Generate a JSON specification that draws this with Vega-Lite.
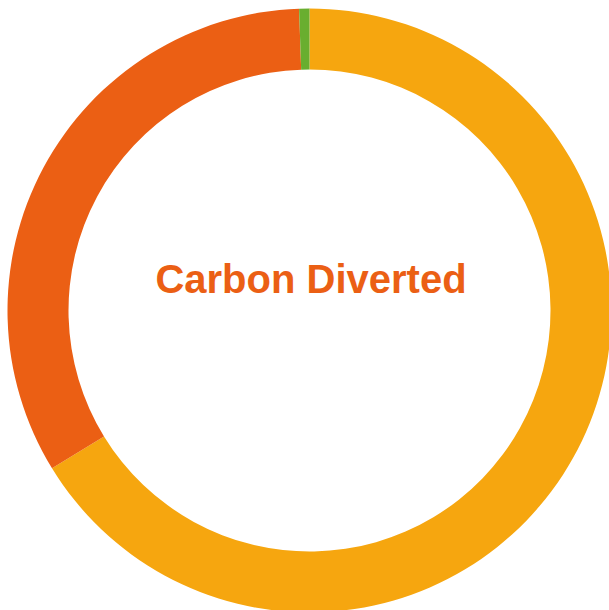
{
  "$schema": "https://vega.github.io/schema/vega-lite/v6.json",
  "width": 619,
  "height": 621,
  "padding": 0,
  "autosize": {"type": "none"},
  "background": "white",
  "view": {"stroke": null},
  "layer": [
    {
      "data": {"values": [
        {"category": "Diverted", "value": 66.25, "rank": 1},
        {"category": "Remaining", "value": 33.2, "rank": 2},
        {"category": "Offset", "value": 0.55, "rank": 3}
      ]},
      "mark": {"type": "arc", "outerRadius": 302, "innerRadius": 241},
      "encoding": {
        "theta": {"field": "value", "type": "quantitative", "stack": true},
        "order": {"field": "rank", "type": "quantitative"},
        "color": {
          "field": "category", "type": "nominal",
          "scale": {"domain": ["Diverted", "Remaining", "Offset"], "range": ["#F6A60F", "#EB5F14", "#69AE2F"]},
          "legend": null
        }
      }
    },
    {
      "data": {"values": [{"label": "Carbon Diverted"}]},
      "mark": {"type": "text", "font": "Liberation Sans", "fontWeight": "bold", "fontSize": 40, "color": "#EB5F14", "align": "center", "baseline": "middle", "dy": -30, "dx": 1.5},
      "encoding": {"text": {"field": "label", "type": "nominal"}}
    }
  ]
}
